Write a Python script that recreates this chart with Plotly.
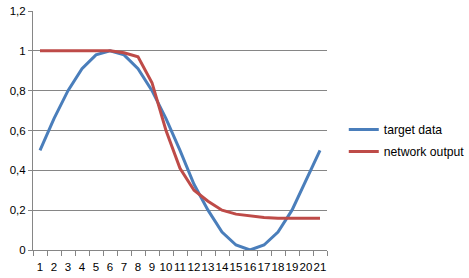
import plotly.graph_objects as go

categories = [str(i) for i in range(1, 22)]
target_data = [0.50, 0.66, 0.80, 0.91, 0.98, 1.00, 0.98, 0.91, 0.80, 0.66, 0.50,
               0.33, 0.20, 0.09, 0.025, 0.00, 0.025, 0.09, 0.20, 0.35, 0.50]
network_output = [1.00, 1.00, 1.00, 1.00, 1.00, 1.00, 0.99, 0.97, 0.84, 0.60, 0.41,
                  0.30, 0.245, 0.20, 0.18, 0.17, 0.163, 0.16, 0.16, 0.16, 0.16]
y_tickvals = [0, 0.2, 0.4, 0.6, 0.8, 1.0, 1.2]
y_ticktext = ["0", "0,2", "0,4", "0,6", "0,8", "1", "1,2"]

fig = go.Figure()
fig.add_trace(go.Scatter(x=categories, y=target_data, mode="lines", name="target data",
                         legendgroup="a",
                         line=dict(color="#4A7EBB", width=3)))
fig.add_trace(go.Scatter(x=categories, y=network_output, mode="lines", name="network output",
                         legendgroup="b",
                         line=dict(color="#BE4B48", width=3)))

fig.update_layout(
    width=469, height=278,
    margin=dict(l=33, r=142, t=11, b=28, autoexpand=False),
    paper_bgcolor="white", plot_bgcolor="white",
    font=dict(family="Liberation Sans, Arial, sans-serif", size=11, color="black"),
    showlegend=True,
    legend=dict(xref="container", yref="container", x=0.733, y=0.4946,
                xanchor="left", yanchor="middle",
                font=dict(size=12.2), traceorder="grouped", tracegroupgap=3, itemwidth=30,
                bgcolor="rgba(0,0,0,0)"),
    xaxis=dict(type="category", range=[-0.5, 20.5], tickmode="array",
               tickvals=categories, ticktext=categories, tickson="boundaries",
               ticks="outside", ticklen=5, tickcolor="#868686",
               ticklabelstandoff=6, tickfont=dict(size=11.5), automargin=False,
               showline=True, linecolor="#868686", linewidth=1,
               showgrid=False, zeroline=False, tickangle=0),
    yaxis=dict(range=[0, 1.2], tickmode="array", tickvals=y_tickvals, ticktext=y_ticktext,
               ticks="outside", ticklen=4, tickcolor="#868686", tickfont=dict(size=11.5),
               automargin=False,
               showline=True, linecolor="#868686", linewidth=1,
               showgrid=True, gridcolor="#868686", gridwidth=1, zeroline=False),
)

fig.write_html("out.html")
